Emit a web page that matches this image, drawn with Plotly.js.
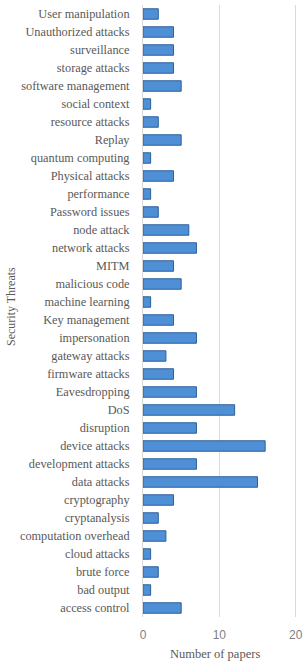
<!DOCTYPE html>
<html>
<head>
<meta charset="utf-8">
<script src="https://cdn.plot.ly/plotly-3.0.1.min.js"></script>
<style>html,body{margin:0;padding:0;background:#fff;}#chart{width:305px;height:668px;}</style>
</head>
<body>
<div id="chart"></div>
<script>
const categories = ["access control","bad output","brute force","cloud attacks","computation overhead","cryptanalysis","cryptography","data attacks","development attacks","device attacks","disruption","DoS","Eavesdropping","firmware attacks","gateway attacks","impersonation","Key management","machine learning","malicious code","MITM","network attacks","node attack","Password issues","performance","Physical attacks","quantum computing","Replay","resource attacks","social context","software management","storage attacks","surveillance","Unauthorized attacks","User manipulation"];
const papers = [5,1,2,1,3,2,4,15,7,16,7,12,7,4,3,7,4,1,5,4,7,6,2,1,4,1,5,2,1,5,4,4,4,2];
const xTickVals = [0,10,20];
const xTickText = ["0","10","20"];
const xTitle = 'Number of papers';
const yTitle = 'Security Threats';

const serif = 'Liberation Serif, Times New Roman, serif';
const trace = {
  type: 'bar',
  orientation: 'h',
  y: categories,
  x: papers,
  marker: {color: '#4f8fd6', line: {color: '#2c5f99', width: 1}},
  hoverinfo: 'x+y'
};
const W = 305, L = 143, R = 7;
const plotW = W - L - R;
const layout = {
  width: 305, height: 668,
  margin: {l: L, r: R, t: 5, b: 51},
  paper_bgcolor: '#fff', plot_bgcolor: '#fff',
  showlegend: false,
  bargap: 0.42,
  xaxis: {
    range: [0, 20.3], tickvals: xTickVals, ticktext: xTickText,
    showgrid: true, gridcolor: '#d9d9d9', gridwidth: 1,
    zeroline: false, showline: false, ticks: '',
    ticklabeloverflow: 'allow', ticklabelstandoff: 9,
    tickfont: {family: 'Liberation Sans, Arial, sans-serif', size: 12, color: '#7f7f7f'},
    fixedrange: true
  },
  yaxis: {
    type: 'category', categoryorder: 'array', categoryarray: categories,
    range: [-0.5, categories.length - 0.5],
    showgrid: false, zeroline: false, showline: true, linecolor: '#d9d9d9', linewidth: 1,
    ticks: '', ticklabelstandoff: 10,
    tickfont: {family: serif, size: 12.3, color: '#595959'},
    automargin: false,
    fixedrange: true
  },
  annotations: [
    {text: xTitle, xref: 'paper', yref: 'paper', x: (215 - L) / plotW, y: 0, yshift: -37,
     xanchor: 'center', yanchor: 'middle', showarrow: false,
     font: {family: serif, size: 12.5, color: '#595959'}},
    {text: yTitle, xref: 'paper', yref: 'paper', x: (2 - L) / plotW, y: 0.5, yshift: 4,
     xanchor: 'left', yanchor: 'middle', textangle: -90, showarrow: false,
     font: {family: serif, size: 12, color: '#595959'}}
  ]
};
Plotly.newPlot('chart', [trace], layout, {displayModeBar: false, staticPlot: true});
</script>
</body>
</html>
